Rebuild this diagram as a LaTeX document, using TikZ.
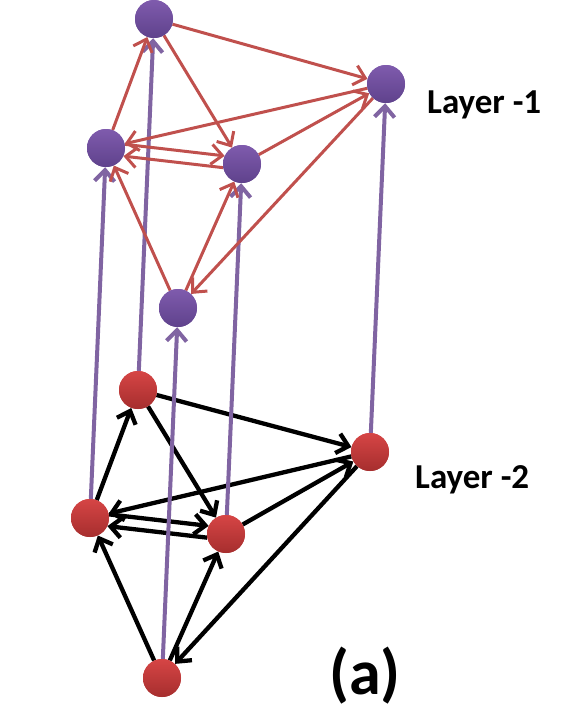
\documentclass[tikz,border=0pt]{standalone}
\usepackage{fontspec}
\setmainfont{Carlito}
\usetikzlibrary{arrows.meta}
\definecolor{pTop}{HTML}{7F5BAD}
\definecolor{pBot}{HTML}{5F428C}
\definecolor{rTop}{HTML}{D64545}
\definecolor{rBot}{HTML}{A62E2E}
\definecolor{edgeRed}{HTML}{C0504D}
\definecolor{linkPurple}{HTML}{8064A2}
\begin{document}
\begin{tikzpicture}[x=1pt,y=-1pt,
  pnode/.style={circle,minimum size=38pt,inner sep=0pt,draw=none,top color=pTop,bottom color=pBot},
  rnode/.style={circle,minimum size=38pt,inner sep=0pt,draw=none,top color=rTop,bottom color=rBot},
  redge/.style={draw=edgeRed,line width=3pt,-{Straight Barb[length=11pt,width=20pt]}},
  bedge/.style={draw=black,line width=4.3pt,-{Straight Barb[length=11pt,width=20pt]}},
  link/.style={draw=linkPurple,line width=4pt,-{Straight Barb[length=11pt,width=20pt]}},
  lbl/.style={font=\bfseries\fontsize{35}{40}\selectfont,anchor=base west,inner sep=0pt}
]
\useasboundingbox (0,0) rectangle (579,713);
% nodes
\node[pnode] (P1) at (154,19) {};
\node[pnode] (P2) at (386,84) {};
\node[pnode] (P3) at (106,148) {};
\node[pnode] (P4) at (242,164) {};
\node[pnode] (P5) at (178,308) {};
\node[rnode] (R1) at (138,390) {};
\node[rnode] (R2) at (370,452) {};
\node[rnode] (R3) at (90,518) {};
\node[rnode] (R4) at (226,534) {};
\node[rnode] (R5) at (162,678) {};
% lower layer edges
\draw[bedge] (R1) -- (R2);
\draw[bedge] (R3) -- (R1);
\draw[bedge] (R1) -- (R4);
\draw[bedge] (R2) -- (R3);
\draw[bedge] (R3.11) -- (R4.155);
\draw[bedge] (R4.191) -- (R3.-25);
\draw[bedge] (R4) -- (R2);
\draw[bedge] (R5) -- (R3);
\draw[bedge] (R5) -- (R4);
\draw[bedge] (R2) -- (R5);
% inter-layer links
\draw[link] (R1) -- (P1);
\draw[link] (R2) -- (P2);
\draw[link] (R3) -- (P3);
\draw[link] (R4) -- (P4);
\draw[link] (R5) -- (P5);
% upper layer edges
\draw[redge] (P1) -- (P2);
\draw[redge] (P3) -- (P1);
\draw[redge] (P1) -- (P4);
\draw[redge] (P2) -- (P3);
\draw[redge] (P3.11) -- (P4.155);
\draw[redge] (P4.191) -- (P3.-25);
\draw[redge] (P4) -- (P2);
\draw[redge] (P5) -- (P3);
\draw[redge] (P5) -- (P4);
\draw[redge] (P2) -- (P5);
% redraw nodes on top
\node[pnode] at (P1) {};
\node[pnode] at (P2) {};
\node[pnode] at (P3) {};
\node[pnode] at (P4) {};
\node[pnode] at (P5) {};
\node[rnode] at (R1) {};
\node[rnode] at (R2) {};
\node[rnode] at (R3) {};
\node[rnode] at (R4) {};
\node[rnode] at (R5) {};
% labels
\node[lbl] (L1) at (427,113) {Layer -1};
\node[lbl] (L2) at (415,488) {Layer -2};
\node[lbl,font=\bfseries\fontsize{64}{70}\selectfont] (La) at (329,694) {(a)};
\end{tikzpicture}
\end{document}
